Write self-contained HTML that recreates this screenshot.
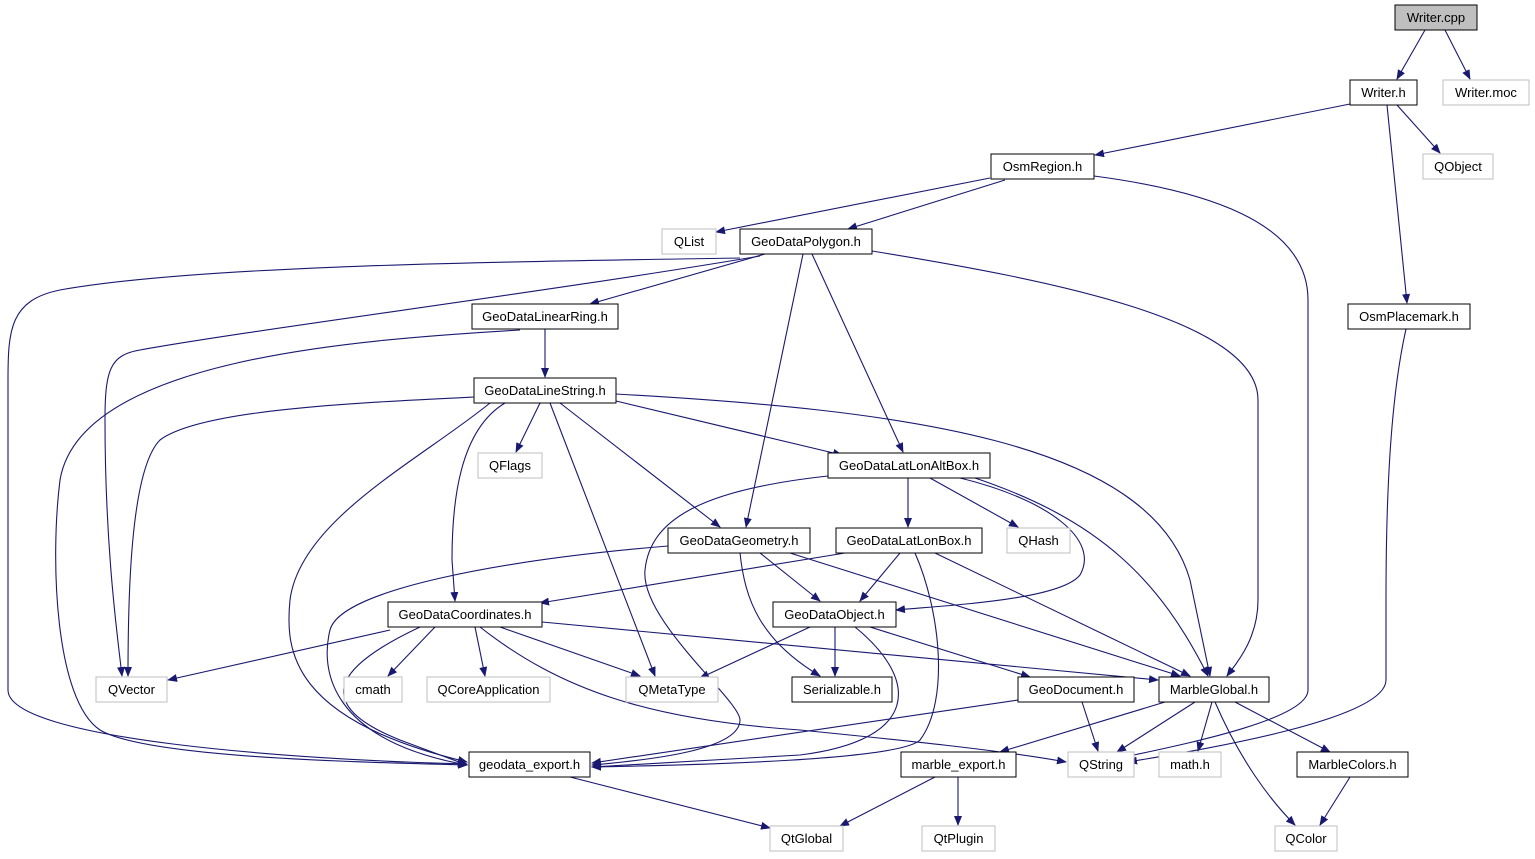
<!DOCTYPE html>
<html><head><meta charset="utf-8"><style>
html,body{margin:0;padding:0;background:#fff;}
svg{display:block;}
text{font-family:"Liberation Sans",sans-serif;font-size:13px;}
</style></head><body>
<svg width="1535" height="859" viewBox="0 0 1535 859" xmlns="http://www.w3.org/2000/svg">
<defs><marker id="a" markerWidth="10" markerHeight="10" refX="9" refY="5" orient="auto" markerUnits="userSpaceOnUse"><path d="M0,1 L10,5 L0,9 z" fill="#191970"/></marker></defs>
<g fill="none" stroke="#191970" stroke-width="1.1" marker-end="url(#a)">
<path d="M1425,30 L1397,79"/>
<path d="M1445,30 L1470,79"/>
<path d="M1355,103 L1095,155"/>
<path d="M1397,105 L1440,153"/>
<path d="M1387,105 L1407,303"/>
<path d="M990,178 L716,232"/>
<path d="M1005,180 L848,229"/>
<path d="M1094,176 C1200,190 1308,220 1308,300 L1308,690 C1308,720 1180,745 1120,758"/>
<path d="M1406,329 C1390,400 1386,500 1386,600 L1386,680 C1386,720 1200,750 1128,762"/>
<path d="M765,254 L590,304"/>
<path d="M740,258 C500,262 200,265 60,290 C10,300 8,330 8,380 L8,690 C8,740 300,760 467,764"/>
<path d="M760,256 C560,290 250,330 140,350 C110,355 105,370 105,420 C105,550 118,640 122,676"/>
<path d="M803,254 L746,527"/>
<path d="M812,254 L903,452"/>
<path d="M872,251 C1050,280 1258,320 1258,400 L1258,600 C1258,640 1235,665 1227,676"/>
<path d="M545,329 L545,377"/>
<path d="M520,330 C350,340 80,360 60,480 C50,560 55,700 100,730 C150,760 400,763 467,765"/>
<path d="M474,397 C350,403 200,410 160,440 C130,470 128,600 128,676"/>
<path d="M540,403 L516,452"/>
<path d="M490,403 C420,460 300,520 290,600 C285,650 290,720 467,762"/>
<path d="M505,403 C460,430 452,500 452,560 L455,601"/>
<path d="M550,403 L655,676"/>
<path d="M560,403 L720,527"/>
<path d="M616,401 L842,455"/>
<path d="M616,394 C900,410 1150,440 1190,580 L1210,676"/>
<path d="M828,476 C700,490 650,520 645,570 C640,620 740,700 740,720 C740,750 650,760 592,765"/>
<path d="M908,478 L908,527"/>
<path d="M930,478 L1018,527"/>
<path d="M960,478 C1050,500 1100,540 1080,575 C1060,600 950,605 896,610"/>
<path d="M975,478 C1100,520 1160,580 1208,676"/>
<path d="M668,546 C500,560 340,590 330,630 C320,670 330,740 467,765"/>
<path d="M760,553 L820,601"/>
<path d="M740,553 C745,600 760,640 820,676"/>
<path d="M790,553 L1180,676"/>
<path d="M845,553 L540,603"/>
<path d="M900,553 L860,601"/>
<path d="M915,553 C940,610 950,700 920,740 C900,760 700,765 592,767"/>
<path d="M935,553 L1190,676"/>
<path d="M390,630 L168,680"/>
<path d="M435,627 L388,676"/>
<path d="M475,627 L485,676"/>
<path d="M500,627 L640,676"/>
<path d="M420,627 C350,660 300,700 400,740 L467,765"/>
<path d="M480,627 C560,690 650,720 800,730 C900,740 1000,750 1066,762"/>
<path d="M542,622 L1158,680"/>
<path d="M810,627 L700,678"/>
<path d="M835,627 L835,676"/>
<path d="M855,627 C920,680 920,740 800,755 L592,767"/>
<path d="M870,627 L1030,677"/>
<path d="M1018,700 L592,763"/>
<path d="M1082,702 L1098,751"/>
<path d="M1165,702 L1000,752"/>
<path d="M1195,702 L1117,752"/>
<path d="M1212,702 L1198,751"/>
<path d="M1235,702 L1330,752"/>
<path d="M1215,702 C1240,760 1270,800 1295,825"/>
<path d="M570,777 L770,828"/>
<path d="M935,777 L840,826"/>
<path d="M958,777 L958,825"/>
<path d="M1350,777 L1320,825"/>
</g>
<g text-anchor="middle" fill="#000">
<rect x="1395" y="5" width="82" height="25" fill="#bfbfbf" stroke="#000"/><text x="1436" y="22">Writer.cpp</text>
<rect x="1350" y="80" width="67" height="25" fill="#fff" stroke="#000"/><text x="1383.5" y="97">Writer.h</text>
<rect x="1443" y="80" width="86" height="25" fill="#fff" stroke="#bfbfbf"/><text x="1486" y="97">Writer.moc</text>
<rect x="991" y="154" width="103" height="25" fill="#fff" stroke="#000"/><text x="1042.5" y="171">OsmRegion.h</text>
<rect x="1423" y="154" width="70" height="25" fill="#fff" stroke="#bfbfbf"/><text x="1458" y="171">QObject</text>
<rect x="662" y="229" width="54" height="25" fill="#fff" stroke="#bfbfbf"/><text x="689" y="246">QList</text>
<rect x="740" y="229" width="132" height="25" fill="#fff" stroke="#000"/><text x="806" y="246">GeoDataPolygon.h</text>
<rect x="1348" y="304" width="122" height="25" fill="#fff" stroke="#000"/><text x="1409" y="321">OsmPlacemark.h</text>
<rect x="472" y="304" width="146" height="25" fill="#fff" stroke="#000"/><text x="545" y="321">GeoDataLinearRing.h</text>
<rect x="474" y="378" width="142" height="25" fill="#fff" stroke="#000"/><text x="545" y="395">GeoDataLineString.h</text>
<rect x="478" y="453" width="64" height="25" fill="#fff" stroke="#bfbfbf"/><text x="510" y="470">QFlags</text>
<rect x="828" y="453" width="162" height="25" fill="#fff" stroke="#000"/><text x="909" y="470">GeoDataLatLonAltBox.h</text>
<rect x="668" y="528" width="142" height="25" fill="#fff" stroke="#000"/><text x="739" y="545">GeoDataGeometry.h</text>
<rect x="836" y="528" width="146" height="25" fill="#fff" stroke="#000"/><text x="909" y="545">GeoDataLatLonBox.h</text>
<rect x="1007" y="528" width="63" height="25" fill="#fff" stroke="#bfbfbf"/><text x="1038.5" y="545">QHash</text>
<rect x="388" y="602" width="154" height="25" fill="#fff" stroke="#000"/><text x="465" y="619">GeoDataCoordinates.h</text>
<rect x="773" y="602" width="123" height="25" fill="#fff" stroke="#000"/><text x="834.5" y="619">GeoDataObject.h</text>
<rect x="96" y="677" width="71" height="25" fill="#fff" stroke="#bfbfbf"/><text x="131.5" y="694">QVector</text>
<rect x="344" y="677" width="58" height="25" fill="#fff" stroke="#bfbfbf"/><text x="373" y="694">cmath</text>
<rect x="427" y="677" width="123" height="25" fill="#fff" stroke="#bfbfbf"/><text x="488.5" y="694">QCoreApplication</text>
<rect x="626" y="677" width="92" height="25" fill="#fff" stroke="#bfbfbf"/><text x="672" y="694">QMetaType</text>
<rect x="792" y="677" width="100" height="25" fill="#fff" stroke="#000"/><text x="842" y="694">Serializable.h</text>
<rect x="1018" y="677" width="116" height="25" fill="#fff" stroke="#000"/><text x="1076" y="694">GeoDocument.h</text>
<rect x="1159" y="677" width="110" height="25" fill="#fff" stroke="#000"/><text x="1214" y="694">MarbleGlobal.h</text>
<rect x="469" y="752" width="121" height="25" fill="#fff" stroke="#000"/><text x="529.5" y="769">geodata_export.h</text>
<rect x="901" y="752" width="115" height="25" fill="#fff" stroke="#000"/><text x="958.5" y="769">marble_export.h</text>
<rect x="1068" y="752" width="66" height="25" fill="#fff" stroke="#bfbfbf"/><text x="1101" y="769">QString</text>
<rect x="1159" y="752" width="62" height="25" fill="#fff" stroke="#bfbfbf"/><text x="1190" y="769">math.h</text>
<rect x="1297" y="752" width="111" height="25" fill="#fff" stroke="#000"/><text x="1352.5" y="769">MarbleColors.h</text>
<rect x="770" y="826" width="73" height="25" fill="#fff" stroke="#bfbfbf"/><text x="806.5" y="843">QtGlobal</text>
<rect x="922" y="826" width="73" height="25" fill="#fff" stroke="#bfbfbf"/><text x="958.5" y="843">QtPlugin</text>
<rect x="1275" y="826" width="62" height="25" fill="#fff" stroke="#bfbfbf"/><text x="1306" y="843">QColor</text>
</g>
</svg>
</body></html>
